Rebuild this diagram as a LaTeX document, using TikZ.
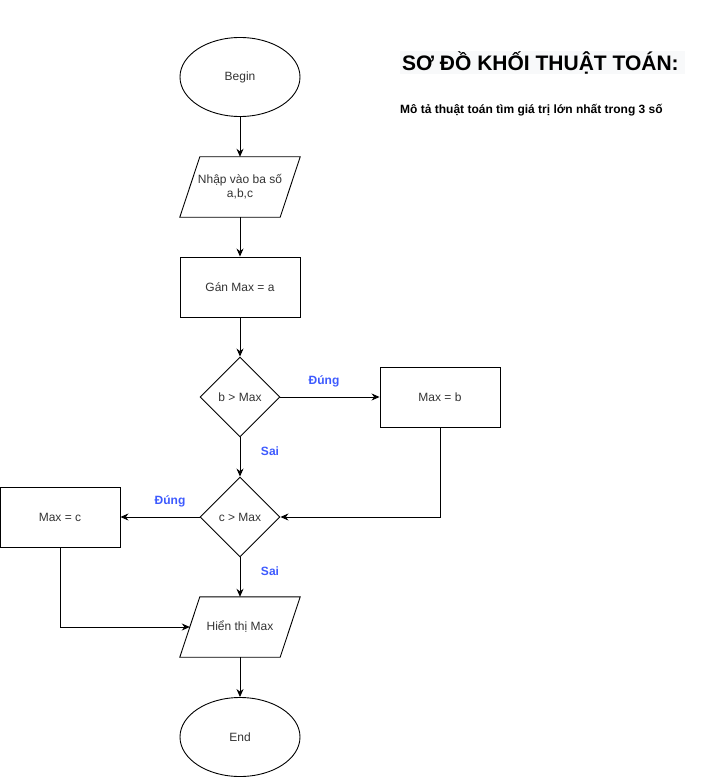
\documentclass[tikz,border=0pt]{standalone}
\usepackage{fontspec}
\setmainfont{Liberation Sans}
\usetikzlibrary{shapes.geometric,arrows.meta}
\definecolor{txt}{HTML}{333333}
\definecolor{lbl}{HTML}{3D5AFE}
\definecolor{titlebg}{HTML}{F8F9FA}
\begin{document}
\begin{tikzpicture}[x=1pt,y=-1pt,
  every node/.style={font=\fontsize{12}{14}\selectfont, text=txt},
  base/.style={draw=black, line width=0.9pt, inner sep=2pt, align=center},
  oval/.style={base, ellipse, minimum width=120pt, minimum height=79pt},
  box/.style={base, rectangle, minimum width=120pt, minimum height=60pt},
  dia/.style={base, diamond, minimum width=80pt, minimum height=80pt, inner sep=0pt},
  paraspot/.style={rectangle, minimum width=100pt, minimum height=60pt, inner sep=2pt, align=center},
  paraline/.style={line width=0.9pt},
  conn/.style={line width=0.9pt, -{Stealth[length=8pt,width=7pt]}},
  yes/.style={font=\fontsize{12}{14}\selectfont\bfseries, text=lbl}
]
\useasboundingbox (0,0) rectangle (701,778);
% title
\fill[titlebg] (400,51) rectangle (685,74);
\node[anchor=west, font=\fontsize{21}{25}\selectfont\bfseries, text=black, inner sep=0pt] (title) at (402,62.5) {SƠ ĐỒ KHỐI THUẬT TOÁN:};
\node[anchor=west, font=\fontsize{12}{14}\selectfont\bfseries, text=black, inner sep=0pt] (sub) at (400,110) {Mô tả thuật toán tìm giá trị lớn nhất trong 3 số};
% nodes
\node[oval] (begin) at (240,77) {Begin};
\node[paraspot] (input) at (240,187) {Nhập vào ba số\\a,b,c};
\draw[paraline] ([xshift=10pt]input.north west) -- ([xshift=10pt]input.north east) -- ([xshift=-10pt]input.south east) -- ([xshift=-10pt]input.south west) -- cycle;
\node[box] (assign) at (240,287) {Gán Max = a};
\node[dia] (d1) at (240,397) {b > Max};
\node[box] (maxb) at (440,397) {Max = b};
\node[dia] (d2) at (240,517) {c > Max};
\node[box] (maxc) at (60,517) {Max = c};
\node[paraspot] (out) at (240,627) {Hiển thị Max};
\draw[paraline] ([xshift=10pt]out.north west) -- ([xshift=10pt]out.north east) -- ([xshift=-10pt]out.south east) -- ([xshift=-10pt]out.south west) -- cycle;
\node[oval] (end) at (240,737) {End};
% connectors
\draw[conn] (begin) -- (input);
\draw[conn] (input) -- (assign);
\draw[conn] (assign) -- (d1);
\draw[conn] (d1) -- (maxb);
\draw[conn] (d1) -- (d2);
\draw[conn] (maxb.south) |- (d2.east);
\draw[conn] (d2) -- (maxc);
\draw[conn] (d2) -- (out);
\draw[conn] (maxc.south) |- (out.west);
\draw[conn] (out) -- (end);
% labels
\node[yes] (l1) at (324,381) {Đúng};
\node[yes] (l2) at (270,451) {Sai};
\node[yes] (l3) at (170,501) {Đúng};
\node[yes] (l4) at (270,571) {Sai};
\end{tikzpicture}
\end{document}
